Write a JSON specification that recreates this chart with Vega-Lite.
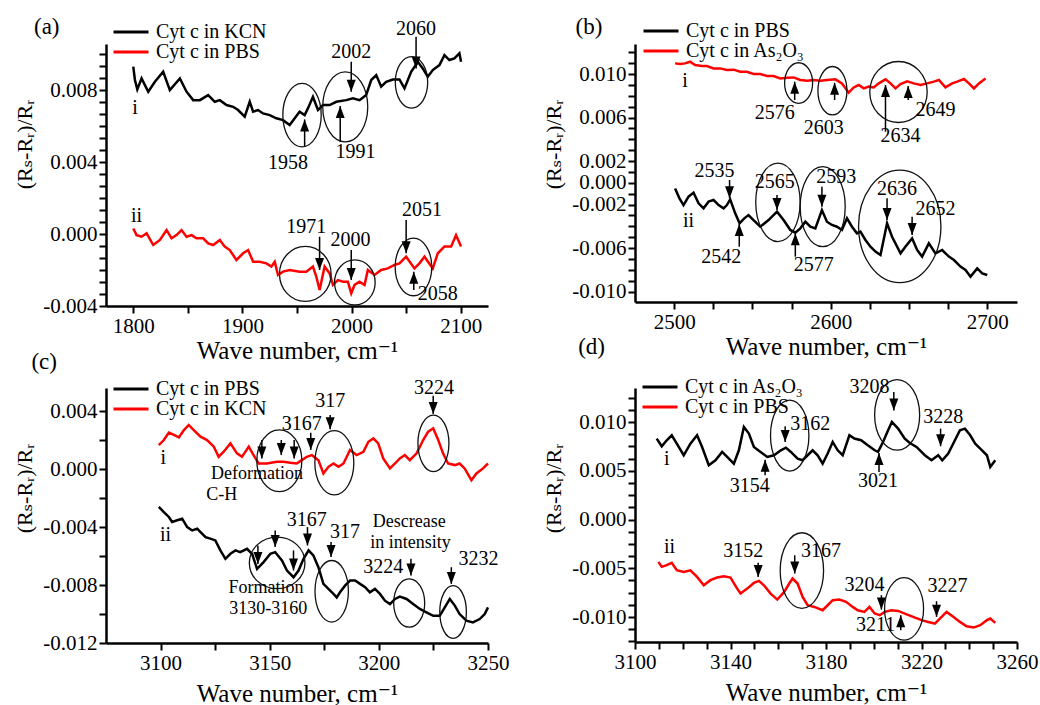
{
  "$schema": "https://vega.github.io/schema/vega-lite/v6.json",
  "background": "white",
  "padding": {"left": 13, "top": 15, "right": 5, "bottom": 5},
  "config": {
    "view": {"stroke": null},
    "font": "Liberation Serif, Tinos, Times New Roman, Times, DejaVu Serif, serif",
    "axis": {"domainColor": "#000", "domainWidth": 2.5, "tickColor": "#000", "tickWidth": 2, "tickSize": 7, "tickCount": 1000, "labelFont": "Liberation Serif, Tinos, Times New Roman, Times, DejaVu Serif, serif", "labelFontSize": 21, "labelColor": "#000", "titleFont": "Liberation Serif, Tinos, Times New Roman, Times, DejaVu Serif, serif", "titleFontWeight": "normal", "titleColor": "#000", "grid": false, "labelPadding": 2, "labelOverlap": false, "labelFlush": false},
    "axisY": {"titleFontSize": 22, "titleY": 100, "titlePadding": 6},
    "axisX": {"titleFontSize": 25},
    "legend": {"title": null, "symbolType": "stroke", "symbolSize": 1225, "symbolStrokeWidth": 3, "labelFont": "Liberation Serif, Tinos, Times New Roman, Times, DejaVu Serif, serif", "labelFontSize": 20, "labelColor": "#000", "labelOffset": 6, "clipHeight": 18, "rowPadding": 0, "padding": 0, "orient": "none"},
    "text": {"font": "Liberation Serif, Tinos, Times New Roman, Times, DejaVu Serif, serif", "fontSize": 20, "color": "#000"}
  },
  "datasets": {
    "aL": [
      {"x":1800,"y":0.0093,"s":"KCN"},{"x":1801.5,"y":0.00856,"s":"KCN"},{"x":1803.7,"y":0.00804,"s":"KCN"},{"x":1807.6,"y":0.00865,"s":"KCN"},{"x":1813.7,"y":0.00791,"s":"KCN"},{"x":1819.8,"y":0.00846,"s":"KCN"},{"x":1827.4,"y":0.00902,"s":"KCN"},{"x":1833.5,"y":0.008,"s":"KCN"},{"x":1842.7,"y":0.00865,"s":"KCN"},{"x":1848.8,"y":0.00791,"s":"KCN"},{"x":1854.9,"y":0.00744,"s":"KCN"},{"x":1861,"y":0.00744,"s":"KCN"},{"x":1868.6,"y":0.00772,"s":"KCN"},{"x":1874.7,"y":0.00735,"s":"KCN"},{"x":1879.3,"y":0.00744,"s":"KCN"},{"x":1885.4,"y":0.00717,"s":"KCN"},{"x":1891.5,"y":0.00707,"s":"KCN"},{"x":1896,"y":0.00689,"s":"KCN"},{"x":1902.1,"y":0.00652,"s":"KCN"},{"x":1906.7,"y":0.00735,"s":"KCN"},{"x":1909.8,"y":0.0068,"s":"KCN"},{"x":1914.3,"y":0.00689,"s":"KCN"},{"x":1918.9,"y":0.0067,"s":"KCN"},{"x":1925,"y":0.00661,"s":"KCN"},{"x":1931.1,"y":0.00643,"s":"KCN"},{"x":1937.2,"y":0.00633,"s":"KCN"},{"x":1943.3,"y":0.00606,"s":"KCN"},{"x":1947.9,"y":0.00643,"s":"KCN"},{"x":1952.4,"y":0.0068,"s":"KCN"},{"x":1957,"y":0.00661,"s":"KCN"},{"x":1960,"y":0.00698,"s":"KCN"},{"x":1964.6,"y":0.00763,"s":"KCN"},{"x":1969.2,"y":0.00689,"s":"KCN"},{"x":1973.8,"y":0.00717,"s":"KCN"},{"x":1979.9,"y":0.00717,"s":"KCN"},{"x":1986,"y":0.00735,"s":"KCN"},{"x":1995.1,"y":0.00744,"s":"KCN"},{"x":2001.2,"y":0.00754,"s":"KCN"},{"x":2007.3,"y":0.00744,"s":"KCN"},{"x":2013.4,"y":0.00772,"s":"KCN"},{"x":2018,"y":0.00856,"s":"KCN"},{"x":2022.6,"y":0.00883,"s":"KCN"},{"x":2027.1,"y":0.00819,"s":"KCN"},{"x":2031.7,"y":0.00846,"s":"KCN"},{"x":2037.8,"y":0.00859,"s":"KCN"},{"x":2043.9,"y":0.00859,"s":"KCN"},{"x":2048.5,"y":0.00809,"s":"KCN"},{"x":2054.6,"y":0.00902,"s":"KCN"},{"x":2060.7,"y":0.00957,"s":"KCN"},{"x":2065.2,"y":0.0092,"s":"KCN"},{"x":2069.8,"y":0.00874,"s":"KCN"},{"x":2074.4,"y":0.00911,"s":"KCN"},{"x":2080.5,"y":0.00939,"s":"KCN"},{"x":2085.1,"y":0.00994,"s":"KCN"},{"x":2089.6,"y":0.00967,"s":"KCN"},{"x":2094.2,"y":0.00976,"s":"KCN"},{"x":2098.8,"y":0.01004,"s":"KCN"},{"x":2100.3,"y":0.00957,"s":"KCN"},
      {"x":1800,"y":0.00031,"s":"PBS"},{"x":1803,"y":-0.00006,"s":"PBS"},{"x":1807.6,"y":-0.00015,"s":"PBS"},{"x":1812.2,"y":0.00004,"s":"PBS"},{"x":1818.3,"y":-0.00061,"s":"PBS"},{"x":1824.4,"y":-0.00033,"s":"PBS"},{"x":1830.5,"y":0.00022,"s":"PBS"},{"x":1835.1,"y":-0.00024,"s":"PBS"},{"x":1839.6,"y":-0.00006,"s":"PBS"},{"x":1844.2,"y":0.00022,"s":"PBS"},{"x":1848.8,"y":-0.00015,"s":"PBS"},{"x":1853.4,"y":-0.00006,"s":"PBS"},{"x":1857.9,"y":-0.00024,"s":"PBS"},{"x":1864,"y":-0.00024,"s":"PBS"},{"x":1868.6,"y":-0.00052,"s":"PBS"},{"x":1873.2,"y":-0.00061,"s":"PBS"},{"x":1879.3,"y":-0.00033,"s":"PBS"},{"x":1883.8,"y":-0.0007,"s":"PBS"},{"x":1888.4,"y":-0.00089,"s":"PBS"},{"x":1894.5,"y":-0.00144,"s":"PBS"},{"x":1900.6,"y":-0.00107,"s":"PBS"},{"x":1905.2,"y":-0.00089,"s":"PBS"},{"x":1909.8,"y":-0.00154,"s":"PBS"},{"x":1915.9,"y":-0.00154,"s":"PBS"},{"x":1922,"y":-0.00163,"s":"PBS"},{"x":1926.5,"y":-0.00181,"s":"PBS"},{"x":1929.6,"y":-0.00154,"s":"PBS"},{"x":1932.6,"y":-0.00228,"s":"PBS"},{"x":1937.2,"y":-0.00209,"s":"PBS"},{"x":1943.3,"y":-0.002,"s":"PBS"},{"x":1952.4,"y":-0.00209,"s":"PBS"},{"x":1958.5,"y":-0.00209,"s":"PBS"},{"x":1964.6,"y":-0.00181,"s":"PBS"},{"x":1967.7,"y":-0.00237,"s":"PBS"},{"x":1970.7,"y":-0.00311,"s":"PBS"},{"x":1975.3,"y":-0.00181,"s":"PBS"},{"x":1979.9,"y":-0.00219,"s":"PBS"},{"x":1982.9,"y":-0.00283,"s":"PBS"},{"x":1987.5,"y":-0.00256,"s":"PBS"},{"x":1992.1,"y":-0.00265,"s":"PBS"},{"x":1996.6,"y":-0.00265,"s":"PBS"},{"x":1999.7,"y":-0.0033,"s":"PBS"},{"x":2002.7,"y":-0.00283,"s":"PBS"},{"x":2007.3,"y":-0.00265,"s":"PBS"},{"x":2011.9,"y":-0.00283,"s":"PBS"},{"x":2014.9,"y":-0.002,"s":"PBS"},{"x":2021,"y":-0.00228,"s":"PBS"},{"x":2027.1,"y":-0.002,"s":"PBS"},{"x":2033.2,"y":-0.00191,"s":"PBS"},{"x":2039.3,"y":-0.00172,"s":"PBS"},{"x":2043.9,"y":-0.00163,"s":"PBS"},{"x":2050,"y":-0.00126,"s":"PBS"},{"x":2057.6,"y":-0.00191,"s":"PBS"},{"x":2062.2,"y":-0.00163,"s":"PBS"},{"x":2066.8,"y":-0.00126,"s":"PBS"},{"x":2074.4,"y":-0.00191,"s":"PBS"},{"x":2079,"y":-0.00107,"s":"PBS"},{"x":2085.1,"y":-0.0007,"s":"PBS"},{"x":2091.2,"y":-0.0007,"s":"PBS"},{"x":2095.7,"y":-0.00006,"s":"PBS"},{"x":2100.3,"y":-0.0007,"s":"PBS"}
    ],
    "aA": [
      {"x":1957,"y1":0.00485,"y2":0.00637,"dir":"up"},{"x":1989.6,"y1":0.00513,"y2":0.00711,"dir":"up"},{"x":1999.7,"y1":0.00957,"y2":0.00791,"dir":"down"},{"x":2059.1,"y1":0.01096,"y2":0.0092,"dir":"down"},{"x":1970.7,"y1":-0.00015,"y2":-0.002,"dir":"down"},{"x":1999.7,"y1":-0.00089,"y2":-0.00256,"dir":"down"},{"x":2050,"y1":0.00078,"y2":-0.00107,"dir":"down"},{"x":2057,"y1":-0.00311,"y2":-0.00209,"dir":"up"}
    ],
    "aE": [
      {"id":"e1","x":1954.6,"y":0.00661},{"id":"e2","x":1994.2,"y":0.00707},{"id":"e3","x":2054.9,"y":0.00843},{"id":"e4","x":1957.6,"y":-0.00222},{"id":"e5","x":2003,"y":-0.00269},{"id":"e6","x":2056.7,"y":-0.00183}
    ],
    "aT": [
      {"x":1941.8,"y":0.00393,"t":"1958"},{"x":2003.7,"y":0.00457,"t":"1991"},{"x":1999.7,"y":0.01013,"t":"2002"},{"x":2059.1,"y":0.01137,"t":"2060"},{"x":1958.5,"y":0.00041,"t":"1971"},{"x":1999,"y":-0.00033,"t":"2000"},{"x":2064.6,"y":0.00133,"t":"2051"},{"x":2079,"y":-0.00333,"t":"2058"},{"x":1801.5,"y":0.00698,"t":"i"},{"x":1803,"y":0.001,"t":"ii"}
    ],
    "bL": [
      {"x":2500.6,"y":0.01098,"s":"As₂O₃"},{"x":2503.8,"y":0.01092,"s":"As₂O₃"},{"x":2507,"y":0.01098,"s":"As₂O₃"},{"x":2510.2,"y":0.01113,"s":"As₂O₃"},{"x":2513.4,"y":0.01083,"s":"As₂O₃"},{"x":2517.7,"y":0.01074,"s":"As₂O₃"},{"x":2520.9,"y":0.01074,"s":"As₂O₃"},{"x":2525.2,"y":0.01052,"s":"As₂O₃"},{"x":2529.4,"y":0.01052,"s":"As₂O₃"},{"x":2533.7,"y":0.01037,"s":"As₂O₃"},{"x":2538,"y":0.0104,"s":"As₂O₃"},{"x":2542.2,"y":0.01021,"s":"As₂O₃"},{"x":2546.5,"y":0.01021,"s":"As₂O₃"},{"x":2550.7,"y":0.01,"s":"As₂O₃"},{"x":2555,"y":0.01,"s":"As₂O₃"},{"x":2559.3,"y":0.00982,"s":"As₂O₃"},{"x":2563.5,"y":0.00982,"s":"As₂O₃"},{"x":2567.8,"y":0.0096,"s":"As₂O₃"},{"x":2572.1,"y":0.00966,"s":"As₂O₃"},{"x":2576.3,"y":0.00969,"s":"As₂O₃"},{"x":2580.6,"y":0.00945,"s":"As₂O₃"},{"x":2584.9,"y":0.00939,"s":"As₂O₃"},{"x":2589.1,"y":0.00945,"s":"As₂O₃"},{"x":2593.4,"y":0.00939,"s":"As₂O₃"},{"x":2597.7,"y":0.00945,"s":"As₂O₃"},{"x":2603,"y":0.00951,"s":"As₂O₃"},{"x":2607.2,"y":0.00914,"s":"As₂O₃"},{"x":2611.5,"y":0.00829,"s":"As₂O₃"},{"x":2614.7,"y":0.00877,"s":"As₂O₃"},{"x":2617.9,"y":0.00899,"s":"As₂O₃"},{"x":2621.1,"y":0.00868,"s":"As₂O₃"},{"x":2624.3,"y":0.00884,"s":"As₂O₃"},{"x":2627.5,"y":0.00877,"s":"As₂O₃"},{"x":2630.7,"y":0.00914,"s":"As₂O₃"},{"x":2635,"y":0.00951,"s":"As₂O₃"},{"x":2638.2,"y":0.00914,"s":"As₂O₃"},{"x":2641.4,"y":0.00868,"s":"As₂O₃"},{"x":2644.6,"y":0.00908,"s":"As₂O₃"},{"x":2648.8,"y":0.00933,"s":"As₂O₃"},{"x":2653.1,"y":0.00914,"s":"As₂O₃"},{"x":2657.4,"y":0.00899,"s":"As₂O₃"},{"x":2661.6,"y":0.00914,"s":"As₂O₃"},{"x":2665.9,"y":0.0093,"s":"As₂O₃"},{"x":2669.1,"y":0.00945,"s":"As₂O₃"},{"x":2673.3,"y":0.00877,"s":"As₂O₃"},{"x":2677.6,"y":0.00914,"s":"As₂O₃"},{"x":2680.8,"y":0.0093,"s":"As₂O₃"},{"x":2685.1,"y":0.00954,"s":"As₂O₃"},{"x":2688.3,"y":0.00914,"s":"As₂O₃"},{"x":2691.5,"y":0.00868,"s":"As₂O₃"},{"x":2694.7,"y":0.00914,"s":"As₂O₃"},{"x":2698.9,"y":0.0096,"s":"As₂O₃"},
      {"x":2500.6,"y":-0.00051,"s":"PBS"},{"x":2503.4,"y":-0.00142,"s":"PBS"},{"x":2506,"y":-0.00204,"s":"PBS"},{"x":2509.2,"y":-0.00127,"s":"PBS"},{"x":2512.4,"y":-0.0009,"s":"PBS"},{"x":2515.6,"y":-0.00188,"s":"PBS"},{"x":2518.8,"y":-0.00234,"s":"PBS"},{"x":2522,"y":-0.00173,"s":"PBS"},{"x":2525.2,"y":-0.00158,"s":"PBS"},{"x":2528.4,"y":-0.00204,"s":"PBS"},{"x":2531.6,"y":-0.00234,"s":"PBS"},{"x":2533.7,"y":-0.00204,"s":"PBS"},{"x":2535.8,"y":-0.00152,"s":"PBS"},{"x":2539,"y":-0.0028,"s":"PBS"},{"x":2541.8,"y":-0.00372,"s":"PBS"},{"x":2544.8,"y":-0.00326,"s":"PBS"},{"x":2547.5,"y":-0.00296,"s":"PBS"},{"x":2550.7,"y":-0.00342,"s":"PBS"},{"x":2555,"y":-0.00403,"s":"PBS"},{"x":2560.3,"y":-0.00342,"s":"PBS"},{"x":2565.7,"y":-0.00265,"s":"PBS"},{"x":2569.9,"y":-0.00342,"s":"PBS"},{"x":2574.2,"y":-0.00433,"s":"PBS"},{"x":2577.4,"y":-0.00458,"s":"PBS"},{"x":2580.6,"y":-0.00418,"s":"PBS"},{"x":2583.8,"y":-0.00357,"s":"PBS"},{"x":2587,"y":-0.00403,"s":"PBS"},{"x":2590.2,"y":-0.00418,"s":"PBS"},{"x":2594.4,"y":-0.0025,"s":"PBS"},{"x":2597.6,"y":-0.00357,"s":"PBS"},{"x":2600.8,"y":-0.00387,"s":"PBS"},{"x":2604,"y":-0.00403,"s":"PBS"},{"x":2607.2,"y":-0.00433,"s":"PBS"},{"x":2610.4,"y":-0.00326,"s":"PBS"},{"x":2613.6,"y":-0.00403,"s":"PBS"},{"x":2616.8,"y":-0.00464,"s":"PBS"},{"x":2619,"y":-0.00449,"s":"PBS"},{"x":2622.2,"y":-0.00525,"s":"PBS"},{"x":2625.4,"y":-0.00587,"s":"PBS"},{"x":2628.6,"y":-0.00632,"s":"PBS"},{"x":2631.8,"y":-0.00663,"s":"PBS"},{"x":2636,"y":-0.00372,"s":"PBS"},{"x":2639.2,"y":-0.00495,"s":"PBS"},{"x":2644.6,"y":-0.00648,"s":"PBS"},{"x":2647.7,"y":-0.00587,"s":"PBS"},{"x":2652,"y":-0.0051,"s":"PBS"},{"x":2655.2,"y":-0.00617,"s":"PBS"},{"x":2658.4,"y":-0.00678,"s":"PBS"},{"x":2662.7,"y":-0.00556,"s":"PBS"},{"x":2666.9,"y":-0.00648,"s":"PBS"},{"x":2671.2,"y":-0.00617,"s":"PBS"},{"x":2675.5,"y":-0.00678,"s":"PBS"},{"x":2678.7,"y":-0.00709,"s":"PBS"},{"x":2682.9,"y":-0.0077,"s":"PBS"},{"x":2686.1,"y":-0.00801,"s":"PBS"},{"x":2689.3,"y":-0.00862,"s":"PBS"},{"x":2693.6,"y":-0.00786,"s":"PBS"},{"x":2696.8,"y":-0.00832,"s":"PBS"},{"x":2700,"y":-0.00847,"s":"PBS"}
    ],
    "bA": [
      {"x":2577,"y1":0.00761,"y2":0.0093,"dir":"up"},{"x":2602.5,"y1":0.00761,"y2":0.0092,"dir":"up"},{"x":2635,"y1":0.0047,"y2":0.00899,"dir":"up"},{"x":2649.5,"y1":0.00761,"y2":0.0089,"dir":"up"},{"x":2535.4,"y1":0.00026,"y2":-0.00142,"dir":"down"},{"x":2541.6,"y1":-0.00587,"y2":-0.00378,"dir":"up"},{"x":2565.7,"y1":-0.00112,"y2":-0.0025,"dir":"down"},{"x":2577.4,"y1":-0.00678,"y2":-0.00464,"dir":"up"},{"x":2594.4,"y1":-0.00035,"y2":-0.00219,"dir":"down"},{"x":2636,"y1":-0.00142,"y2":-0.00341,"dir":"down"},{"x":2652,"y1":-0.00311,"y2":-0.00479,"dir":"down"}
    ],
    "bE": [
      {"id":"e1","x":2579.5,"y":0.00917},{"id":"e2","x":2601.1,"y":0.00847},{"id":"e3","x":2643.3,"y":0.00835},{"id":"e4","x":2566.3,"y":-0.00179},{"id":"e5","x":2594.9,"y":-0.00219},{"id":"e6","x":2644.1,"y":-0.004}
    ],
    "bT": [
      {"x":2564.2,"y":0.00639,"t":"2576"},{"x":2595.5,"y":0.00507,"t":"2603"},{"x":2644.6,"y":0.0043,"t":"2634"},{"x":2666.9,"y":0.00669,"t":"2649"},{"x":2525.8,"y":0.00109,"t":"2535"},{"x":2530.1,"y":-0.00678,"t":"2542"},{"x":2564.2,"y":0.00011,"t":"2565"},{"x":2589.1,"y":-0.00755,"t":"2577"},{"x":2603.6,"y":0.00057,"t":"2593"},{"x":2642.4,"y":-0.0006,"t":"2636"},{"x":2666.9,"y":-0.00243,"t":"2652"},{"x":2507,"y":0.00936,"t":"i"},{"x":2509.2,"y":-0.00348,"t":"ii"}
    ],
    "cL": [
      {"x":3099.2,"y":0.00166,"s":"KCN"},{"x":3101.5,"y":0.00201,"s":"KCN"},{"x":3103.8,"y":0.00252,"s":"KCN"},{"x":3106.1,"y":0.00236,"s":"KCN"},{"x":3108.4,"y":0.00219,"s":"KCN"},{"x":3110.7,"y":0.0027,"s":"KCN"},{"x":3112.9,"y":0.00305,"s":"KCN"},{"x":3115.2,"y":0.0027,"s":"KCN"},{"x":3118.3,"y":0.00224,"s":"KCN"},{"x":3121.3,"y":0.00201,"s":"KCN"},{"x":3124.4,"y":0.00155,"s":"KCN"},{"x":3126.6,"y":0.00085,"s":"KCN"},{"x":3128.9,"y":0.0012,"s":"KCN"},{"x":3132,"y":0.00178,"s":"KCN"},{"x":3135,"y":0.00109,"s":"KCN"},{"x":3137.3,"y":0.00085,"s":"KCN"},{"x":3140.4,"y":0.00155,"s":"KCN"},{"x":3142.6,"y":0.00097,"s":"KCN"},{"x":3144.9,"y":0.00039,"s":"KCN"},{"x":3148.7,"y":0.00039,"s":"KCN"},{"x":3153.3,"y":0.00051,"s":"KCN"},{"x":3156.3,"y":0.00051,"s":"KCN"},{"x":3159.4,"y":0.00044,"s":"KCN"},{"x":3162.4,"y":0.00039,"s":"KCN"},{"x":3164.7,"y":0.00062,"s":"KCN"},{"x":3167,"y":0.00085,"s":"KCN"},{"x":3169.3,"y":0.00097,"s":"KCN"},{"x":3172.3,"y":0.00062,"s":"KCN"},{"x":3174.6,"y":-0.0003,"s":"KCN"},{"x":3176.9,"y":0.00016,"s":"KCN"},{"x":3179.2,"y":0.00039,"s":"KCN"},{"x":3181.5,"y":0.00016,"s":"KCN"},{"x":3183.8,"y":0.00039,"s":"KCN"},{"x":3186.8,"y":0.00132,"s":"KCN"},{"x":3189.8,"y":0.00097,"s":"KCN"},{"x":3192.9,"y":0.0012,"s":"KCN"},{"x":3195.2,"y":0.00189,"s":"KCN"},{"x":3197.5,"y":0.00212,"s":"KCN"},{"x":3199.7,"y":0.00178,"s":"KCN"},{"x":3202,"y":0.00074,"s":"KCN"},{"x":3205.1,"y":0.00005,"s":"KCN"},{"x":3207.4,"y":0.00039,"s":"KCN"},{"x":3209.6,"y":0.00074,"s":"KCN"},{"x":3211.9,"y":0.00097,"s":"KCN"},{"x":3214.2,"y":0.00062,"s":"KCN"},{"x":3217.3,"y":0.00109,"s":"KCN"},{"x":3220.3,"y":0.00201,"s":"KCN"},{"x":3222.6,"y":0.00259,"s":"KCN"},{"x":3224.9,"y":0.00282,"s":"KCN"},{"x":3227.2,"y":0.00201,"s":"KCN"},{"x":3229.4,"y":0.00109,"s":"KCN"},{"x":3231.7,"y":0.00039,"s":"KCN"},{"x":3234.8,"y":0.00028,"s":"KCN"},{"x":3237,"y":0.00039,"s":"KCN"},{"x":3239.3,"y":0.00005,"s":"KCN"},{"x":3242.4,"y":-0.00076,"s":"KCN"},{"x":3244.7,"y":-0.0003,"s":"KCN"},{"x":3247.7,"y":0.00005,"s":"KCN"},{"x":3250,"y":0.00039,"s":"KCN"},
      {"x":3099.2,"y":-0.00261,"s":"PBS"},{"x":3101.5,"y":-0.00296,"s":"PBS"},{"x":3103.8,"y":-0.0033,"s":"PBS"},{"x":3105.3,"y":-0.00365,"s":"PBS"},{"x":3107.6,"y":-0.00353,"s":"PBS"},{"x":3109.9,"y":-0.00342,"s":"PBS"},{"x":3112.2,"y":-0.004,"s":"PBS"},{"x":3114.5,"y":-0.00423,"s":"PBS"},{"x":3116.8,"y":-0.00411,"s":"PBS"},{"x":3118.3,"y":-0.00434,"s":"PBS"},{"x":3120.6,"y":-0.00469,"s":"PBS"},{"x":3122.8,"y":-0.0048,"s":"PBS"},{"x":3125.1,"y":-0.00492,"s":"PBS"},{"x":3127.4,"y":-0.00561,"s":"PBS"},{"x":3129.7,"y":-0.00619,"s":"PBS"},{"x":3132,"y":-0.00584,"s":"PBS"},{"x":3134.3,"y":-0.00561,"s":"PBS"},{"x":3136.5,"y":-0.00573,"s":"PBS"},{"x":3139.6,"y":-0.0055,"s":"PBS"},{"x":3141.9,"y":-0.00584,"s":"PBS"},{"x":3144.2,"y":-0.00688,"s":"PBS"},{"x":3147.2,"y":-0.00642,"s":"PBS"},{"x":3150.3,"y":-0.00584,"s":"PBS"},{"x":3152.5,"y":-0.00573,"s":"PBS"},{"x":3155.6,"y":-0.0063,"s":"PBS"},{"x":3157.9,"y":-0.007,"s":"PBS"},{"x":3160.9,"y":-0.00746,"s":"PBS"},{"x":3163.2,"y":-0.007,"s":"PBS"},{"x":3165.5,"y":-0.00619,"s":"PBS"},{"x":3167.8,"y":-0.00561,"s":"PBS"},{"x":3170,"y":-0.00596,"s":"PBS"},{"x":3172.3,"y":-0.00677,"s":"PBS"},{"x":3174.6,"y":-0.00792,"s":"PBS"},{"x":3176.9,"y":-0.00827,"s":"PBS"},{"x":3179.2,"y":-0.00861,"s":"PBS"},{"x":3180.7,"y":-0.00885,"s":"PBS"},{"x":3182.2,"y":-0.0085,"s":"PBS"},{"x":3184.5,"y":-0.00804,"s":"PBS"},{"x":3186.8,"y":-0.00769,"s":"PBS"},{"x":3189.1,"y":-0.00769,"s":"PBS"},{"x":3191.4,"y":-0.00792,"s":"PBS"},{"x":3193.7,"y":-0.00815,"s":"PBS"},{"x":3195.9,"y":-0.0085,"s":"PBS"},{"x":3198.2,"y":-0.00827,"s":"PBS"},{"x":3200.5,"y":-0.00861,"s":"PBS"},{"x":3202.8,"y":-0.00908,"s":"PBS"},{"x":3205.1,"y":-0.00931,"s":"PBS"},{"x":3207.4,"y":-0.00896,"s":"PBS"},{"x":3209.6,"y":-0.0088,"s":"PBS"},{"x":3212.7,"y":-0.00896,"s":"PBS"},{"x":3215.7,"y":-0.00931,"s":"PBS"},{"x":3218.8,"y":-0.00965,"s":"PBS"},{"x":3221.8,"y":-0.00988,"s":"PBS"},{"x":3224.9,"y":-0.01012,"s":"PBS"},{"x":3227.9,"y":-0.01012,"s":"PBS"},{"x":3230.2,"y":-0.00954,"s":"PBS"},{"x":3232.5,"y":-0.00896,"s":"PBS"},{"x":3234.8,"y":-0.00942,"s":"PBS"},{"x":3237,"y":-0.01,"s":"PBS"},{"x":3240.1,"y":-0.01046,"s":"PBS"},{"x":3243.1,"y":-0.01058,"s":"PBS"},{"x":3246.2,"y":-0.01035,"s":"PBS"},{"x":3248.5,"y":-0.01,"s":"PBS"},{"x":3250,"y":-0.00954,"s":"PBS"}
    ],
    "cA": [
      {"x":3146.4,"y1":0.00201,"y2":0.00074,"dir":"down"},{"x":3155.3,"y1":0.00201,"y2":0.00097,"dir":"down"},{"x":3161.2,"y1":0.00201,"y2":0.00074,"dir":"down"},{"x":3168.8,"y1":0.00252,"y2":0.00132,"dir":"down"},{"x":3177.7,"y1":0.00374,"y2":0.00275,"dir":"down"},{"x":3224.9,"y1":0.00506,"y2":0.00381,"dir":"down"},{"x":3144.6,"y1":-0.00527,"y2":-0.00654,"dir":"down"},{"x":3152.5,"y1":-0.00423,"y2":-0.00538,"dir":"down"},{"x":3160.9,"y1":-0.00561,"y2":-0.007,"dir":"down"},{"x":3167.3,"y1":-0.004,"y2":-0.00527,"dir":"down"},{"x":3178.1,"y1":-0.00503,"y2":-0.00607,"dir":"down"},{"x":3214.7,"y1":-0.00619,"y2":-0.00734,"dir":"down"},{"x":3233.2,"y1":-0.00677,"y2":-0.00792,"dir":"down"}
    ],
    "cE": [
      {"id":"e1","x":3154.4,"y":0.00058},{"id":"e2","x":3179.6,"y":0.00044},{"id":"e3","x":3225,"y":0.00178},{"id":"e4","x":3153.4,"y":-0.00647},{"id":"e5","x":3178.4,"y":-0.00843},{"id":"e6","x":3213.9,"y":-0.00924},{"id":"e7","x":3234,"y":-0.00986}
    ],
    "cT": [
      {"x":3164.7,"y":0.00312,"t":"3167"},{"x":3177.7,"y":0.00467,"t":"317"},{"x":3225.3,"y":0.00559,"t":"3224"},{"x":3101.2,"y":0.00074,"t":"i"},{"x":3167,"y":-0.00353,"t":"3167"},{"x":3184.5,"y":-0.00434,"t":"317"},{"x":3202,"y":-0.00677,"t":"3224"},{"x":3245.6,"y":-0.00619,"t":"3232"},{"x":3102.3,"y":-0.00457,"t":"ii"}
    ],
    "cN": [
      {"x":3144.2,"y":-0.00036,"t":"Deformation"},{"x":3128,"y":-0.00176,"t":"C-H"},{"x":3213.9,"y":-0.00364,"t":"Descrease"},{"x":3214.5,"y":-0.00511,"t":"in intensity"},{"x":3148.3,"y":-0.00822,"t":"Formation"},{"x":3149.3,"y":-0.00966,"t":"3130-3160"}
    ],
    "dL": [
      {"x":3109.1,"y":0.00831,"s":"As₂O₃"},{"x":3111.2,"y":0.00752,"s":"As₂O₃"},{"x":3113.3,"y":0.00814,"s":"As₂O₃"},{"x":3115.4,"y":0.00865,"s":"As₂O₃"},{"x":3117.5,"y":0.00779,"s":"As₂O₃"},{"x":3120.4,"y":0.0066,"s":"As₂O₃"},{"x":3123.2,"y":0.00779,"s":"As₂O₃"},{"x":3126,"y":0.00865,"s":"As₂O₃"},{"x":3128.1,"y":0.00745,"s":"As₂O₃"},{"x":3130.9,"y":0.00557,"s":"As₂O₃"},{"x":3133.7,"y":0.00609,"s":"As₂O₃"},{"x":3136.5,"y":0.00694,"s":"As₂O₃"},{"x":3138.6,"y":0.00643,"s":"As₂O₃"},{"x":3141.4,"y":0.00574,"s":"As₂O₃"},{"x":3143.5,"y":0.00711,"s":"As₂O₃"},{"x":3145.6,"y":0.0095,"s":"As₂O₃"},{"x":3147.7,"y":0.00882,"s":"As₂O₃"},{"x":3149.8,"y":0.00745,"s":"As₂O₃"},{"x":3152.6,"y":0.00694,"s":"As₂O₃"},{"x":3155.4,"y":0.00643,"s":"As₂O₃"},{"x":3158.2,"y":0.0066,"s":"As₂O₃"},{"x":3161.1,"y":0.00711,"s":"As₂O₃"},{"x":3163.2,"y":0.00738,"s":"As₂O₃"},{"x":3165.3,"y":0.00694,"s":"As₂O₃"},{"x":3168.1,"y":0.00626,"s":"As₂O₃"},{"x":3170.2,"y":0.00609,"s":"As₂O₃"},{"x":3172.3,"y":0.0066,"s":"As₂O₃"},{"x":3174.4,"y":0.00711,"s":"As₂O₃"},{"x":3176.5,"y":0.0066,"s":"As₂O₃"},{"x":3178.6,"y":0.00574,"s":"As₂O₃"},{"x":3180.7,"y":0.00677,"s":"As₂O₃"},{"x":3182.8,"y":0.00797,"s":"As₂O₃"},{"x":3184.9,"y":0.00711,"s":"As₂O₃"},{"x":3187,"y":0.0066,"s":"As₂O₃"},{"x":3189.8,"y":0.00865,"s":"As₂O₃"},{"x":3191.9,"y":0.00831,"s":"As₂O₃"},{"x":3194.7,"y":0.00814,"s":"As₂O₃"},{"x":3197.5,"y":0.00762,"s":"As₂O₃"},{"x":3200.4,"y":0.00711,"s":"As₂O₃"},{"x":3201.8,"y":0.00694,"s":"As₂O₃"},{"x":3203.9,"y":0.00797,"s":"As₂O₃"},{"x":3206,"y":0.00916,"s":"As₂O₃"},{"x":3207.6,"y":0.01002,"s":"As₂O₃"},{"x":3210.2,"y":0.00933,"s":"As₂O₃"},{"x":3213,"y":0.00831,"s":"As₂O₃"},{"x":3215.1,"y":0.00786,"s":"As₂O₃"},{"x":3217.9,"y":0.00745,"s":"As₂O₃"},{"x":3221.4,"y":0.0066,"s":"As₂O₃"},{"x":3224.2,"y":0.00609,"s":"As₂O₃"},{"x":3227,"y":0.0066,"s":"As₂O₃"},{"x":3228.7,"y":0.00609,"s":"As₂O₃"},{"x":3231.2,"y":0.00677,"s":"As₂O₃"},{"x":3234,"y":0.00814,"s":"As₂O₃"},{"x":3236.1,"y":0.00916,"s":"As₂O₃"},{"x":3238.2,"y":0.00933,"s":"As₂O₃"},{"x":3240.4,"y":0.00865,"s":"As₂O₃"},{"x":3242.5,"y":0.00779,"s":"As₂O₃"},{"x":3244.6,"y":0.00728,"s":"As₂O₃"},{"x":3247.4,"y":0.0066,"s":"As₂O₃"},{"x":3248.8,"y":0.0054,"s":"As₂O₃"},{"x":3250.9,"y":0.00609,"s":"As₂O₃"},
      {"x":3109.8,"y":-0.00434,"s":"PBS"},{"x":3111.2,"y":-0.00485,"s":"PBS"},{"x":3113.3,"y":-0.00468,"s":"PBS"},{"x":3115.4,"y":-0.00444,"s":"PBS"},{"x":3117.5,"y":-0.0052,"s":"PBS"},{"x":3120.4,"y":-0.00537,"s":"PBS"},{"x":3123.2,"y":-0.0052,"s":"PBS"},{"x":3126,"y":-0.00588,"s":"PBS"},{"x":3128.8,"y":-0.00674,"s":"PBS"},{"x":3131.6,"y":-0.00622,"s":"PBS"},{"x":3134.4,"y":-0.00595,"s":"PBS"},{"x":3137.2,"y":-0.00581,"s":"PBS"},{"x":3140,"y":-0.00595,"s":"PBS"},{"x":3142.8,"y":-0.00708,"s":"PBS"},{"x":3144.2,"y":-0.00759,"s":"PBS"},{"x":3147,"y":-0.00708,"s":"PBS"},{"x":3149.8,"y":-0.0065,"s":"PBS"},{"x":3151.9,"y":-0.00629,"s":"PBS"},{"x":3154,"y":-0.00674,"s":"PBS"},{"x":3156.8,"y":-0.00759,"s":"PBS"},{"x":3159.6,"y":-0.00821,"s":"PBS"},{"x":3162.5,"y":-0.00742,"s":"PBS"},{"x":3164.6,"y":-0.00656,"s":"PBS"},{"x":3166,"y":-0.00605,"s":"PBS"},{"x":3168.1,"y":-0.00656,"s":"PBS"},{"x":3170.2,"y":-0.00793,"s":"PBS"},{"x":3172.3,"y":-0.00879,"s":"PBS"},{"x":3175.1,"y":-0.00896,"s":"PBS"},{"x":3178.6,"y":-0.0093,"s":"PBS"},{"x":3180.7,"y":-0.00879,"s":"PBS"},{"x":3182.8,"y":-0.00827,"s":"PBS"},{"x":3185.6,"y":-0.00821,"s":"PBS"},{"x":3188.4,"y":-0.00844,"s":"PBS"},{"x":3191.2,"y":-0.00896,"s":"PBS"},{"x":3193.3,"y":-0.0093,"s":"PBS"},{"x":3196.1,"y":-0.00947,"s":"PBS"},{"x":3198.2,"y":-0.00896,"s":"PBS"},{"x":3200.4,"y":-0.00964,"s":"PBS"},{"x":3202.5,"y":-0.00981,"s":"PBS"},{"x":3204.6,"y":-0.00947,"s":"PBS"},{"x":3207.4,"y":-0.0093,"s":"PBS"},{"x":3210.2,"y":-0.00937,"s":"PBS"},{"x":3213,"y":-0.00964,"s":"PBS"},{"x":3216.5,"y":-0.00998,"s":"PBS"},{"x":3220,"y":-0.01032,"s":"PBS"},{"x":3222.8,"y":-0.0105,"s":"PBS"},{"x":3225.6,"y":-0.01067,"s":"PBS"},{"x":3227.7,"y":-0.01015,"s":"PBS"},{"x":3230.5,"y":-0.00947,"s":"PBS"},{"x":3233.3,"y":-0.00998,"s":"PBS"},{"x":3236.1,"y":-0.0105,"s":"PBS"},{"x":3238.9,"y":-0.01094,"s":"PBS"},{"x":3241.8,"y":-0.01108,"s":"PBS"},{"x":3244.6,"y":-0.01084,"s":"PBS"},{"x":3247.4,"y":-0.01032,"s":"PBS"},{"x":3248.8,"y":-0.01015,"s":"PBS"},{"x":3250.9,"y":-0.0106,"s":"PBS"}
    ],
    "dA": [
      {"x":3162.9,"y1":0.00957,"y2":0.00797,"dir":"down"},{"x":3154.5,"y1":0.00455,"y2":0.00615,"dir":"up"},{"x":3208.4,"y1":0.0131,"y2":0.0112,"dir":"down"},{"x":3202.2,"y1":0.00489,"y2":0.00684,"dir":"up"},{"x":3228,"y1":0.00933,"y2":0.00752,"dir":"down"},{"x":3151.6,"y1":-0.00444,"y2":-0.00588,"dir":"down"},{"x":3166.9,"y1":-0.00366,"y2":-0.00554,"dir":"down"},{"x":3203.2,"y1":-0.00776,"y2":-0.00923,"dir":"down"},{"x":3211.3,"y1":-0.01135,"y2":-0.00981,"dir":"up"},{"x":3226.3,"y1":-0.00838,"y2":-0.00998,"dir":"down"}
    ],
    "dE": [
      {"id":"e1","x":3164.8,"y":0.00862},{"id":"e2","x":3209.8,"y":0.01074},{"id":"e3","x":3169.9,"y":-0.00523},{"id":"e4","x":3212.7,"y":-0.00916}
    ],
    "dT": [
      {"x":3173.4,"y":0.00985,"t":"3162"},{"x":3148.1,"y":0.00342,"t":"3154"},{"x":3198.2,"y":0.0136,"t":"3208"},{"x":3201.8,"y":0.00397,"t":"3021"},{"x":3229.1,"y":0.01053,"t":"3228"},{"x":3145.3,"y":-0.00325,"t":"3152"},{"x":3177.9,"y":-0.00325,"t":"3167"},{"x":3196.1,"y":-0.00667,"t":"3204"},{"x":3200.8,"y":-0.01077,"t":"3211"},{"x":3230.9,"y":-0.00684,"t":"3227"},{"x":3113.3,"y":0.00626,"t":"i"},{"x":3114.5,"y":-0.0028,"t":"ii"}
    ]
  },
  "columns": 2,
  "spacing": {"row": 82, "column": 147},
  "bounds": "flush",
  "resolve": {"scale": {"color": "independent", "shape": "independent", "x": "independent", "y": "independent"}, "legend": {"color": "independent"}},
  "concat": [
    {
      "width": 382, "height": 262,
      "layer": [
        {"data": {"name": "aL"}, "mark": {"type": "line", "strokeWidth": 2.5},
         "encoding": {
           "x": {"field": "x", "type": "quantitative", "scale": {"domain": [1775, 2125], "nice": false, "zero": false},
                 "axis": {"labelOverlap": false, "tickCount": 1000, "values": [1800,1850,1900,1950,2000,2050,2100], "labelExpr": "datum.value % 100 === 0 ? format(datum.value, 'd') : ''", "title": "Wave number, cm⁻¹", "titlePadding": 2}},
           "y": {"field": "y", "type": "quantitative", "scale": {"domain": [-0.004, 0.01056], "nice": false, "zero": false},
                 "axis": {"labelOverlap": false, "tickCount": 1000, "values": [-0.004,-0.003333,-0.002667,-0.002,-0.001333,-0.000667,0,0.000667,0.001333,0.002,0.002667,0.003333,0.004,0.004667,0.005333,0.006,0.006667,0.007333,0.008,0.008667,0.009333,0.01],
                          "labelExpr": "abs(datum.value*250 - round(datum.value*250)) < 0.01 ? (datum.value < -0.0000001 ? '-' : '') + format(abs(datum.value), '.3f') : ''", "title": "(Rₛ-Rᵣ)/Rᵣ"}},
           "color": {"field": "s", "type": "nominal", "scale": {"domain": ["KCN", "PBS"], "range": ["#000000", "#ff0000"]},
                     "legend": {"orient": "none", "legendX": 6, "legendY": -21, "labelExpr": "'Cyt c in ' + datum.label"}}
         }},
        {"data": {"name": "aA"}, "mark": {"type": "rule", "strokeWidth": 1.5, "color": "#000"},
         "encoding": {"x": {"field": "x", "type": "quantitative"}, "y": {"field": "y1", "type": "quantitative"}, "y2": {"field": "y2"}}},
        {"data": {"name": "aA"}, "transform": [{"filter": "datum.dir === 'down'"}], "mark": {"type": "point", "shape": "M -4.5,-12 L 4.5,-12 L 0,0 Z", "size": 4, "filled": true, "color": "#000", "opacity": 1},
         "encoding": {"x": {"field": "x", "type": "quantitative"}, "y": {"field": "y2", "type": "quantitative"}}},
        {"data": {"name": "aA"}, "transform": [{"filter": "datum.dir === 'up'"}], "mark": {"type": "point", "shape": "M -4.5,12 L 4.5,12 L 0,0 Z", "size": 4, "filled": true, "color": "#000", "opacity": 1},
         "encoding": {"x": {"field": "x", "type": "quantitative"}, "y": {"field": "y2", "type": "quantitative"}}},
        {"data": {"name": "aE"}, "mark": {"type": "point", "size": 4, "filled": false, "color": "#111", "strokeWidth": 1.3, "opacity": 1},
         "encoding": {"x": {"field": "x", "type": "quantitative"}, "y": {"field": "y", "type": "quantitative"},
                      "shape": {"field": "id", "type": "nominal", "legend": null, "scale": {"domain": ["e1","e2","e3","e4","e5","e6"], "range": [
                        "M -19.2,0 A 19.2,31.7 0 1,0 19.2,0 A 19.2,31.7 0 1,0 -19.2,0 Z",
                        "M -22.5,0 A 22.5,35 0 1,0 22.5,0 A 22.5,35 0 1,0 -22.5,0 Z",
                        "M -16.2,0 A 16.2,25.8 0 1,0 16.2,0 A 16.2,25.8 0 1,0 -16.2,0 Z",
                        "M -25.8,0 A 25.8,27.5 0 1,0 25.8,0 A 25.8,27.5 0 1,0 -25.8,0 Z",
                        "M -20.3,0 A 20.3,22.5 0 1,0 20.3,0 A 20.3,22.5 0 1,0 -20.3,0 Z",
                        "M -18.3,0 A 18.3,28.8 0 1,0 18.3,0 A 18.3,28.8 0 1,0 -18.3,0 Z"]}}}},
        {"data": {"name": "aT"}, "mark": {"type": "text", "fontSize": 20, "baseline": "middle"},
         "encoding": {"x": {"field": "x", "type": "quantitative"}, "y": {"field": "y", "type": "quantitative"}, "text": {"field": "t"}}},
        {"data": {"values": [{"x": 1720.7, "y": 0.0115, "t": "(a)"}]}, "mark": {"type": "text", "fontSize": 23, "baseline": "middle"},
         "encoding": {"x": {"field": "x", "type": "quantitative"}, "y": {"field": "y", "type": "quantitative"}, "text": {"field": "t"}}}
      ]
    },
    {
      "width": 382, "height": 258,
      "layer": [
        {"data": {"name": "bL"}, "mark": {"type": "line", "strokeWidth": 2.5},
         "encoding": {
           "x": {"field": "x", "type": "quantitative", "scale": {"domain": [2475, 2719], "nice": false, "zero": false},
                 "axis": {"labelOverlap": false, "tickCount": 1000, "values": [2500,2525,2550,2575,2600,2625,2650,2675,2700], "labelExpr": "datum.value % 100 === 0 ? format(datum.value, 'd') : ''", "title": "Wave number, cm⁻¹", "titlePadding": 2}},
           "y": {"field": "y", "type": "quantitative", "scale": {"domain": [-0.01095, 0.01276], "nice": false, "zero": false},
                 "axis": {"labelOverlap": false, "tickCount": 1000, "values": [-0.01,-0.009,-0.008,-0.007,-0.006,-0.005,-0.004,-0.003,-0.002,-0.001,0,0.001,0.002,0.003,0.004,0.005,0.006,0.007,0.008,0.009,0.01,0.011,0.012],
                          "labelExpr": "indexof([10,6,2,0,-2,-6,-10], round(datum.value*1000)) >= 0 ? (datum.value < -0.0000001 ? '-' : '') + format(abs(datum.value), '.3f') : ''", "title": "(Rₛ-Rᵣ)/Rᵣ"}},
           "color": {"field": "s", "type": "nominal", "scale": {"domain": ["PBS", "As₂O₃"], "range": ["#000000", "#ff0000"]},
                     "legend": {"orient": "none", "legendX": 7, "legendY": -22, "labelExpr": "'Cyt c in ' + datum.label"}}
         }},
        {"data": {"name": "bA"}, "mark": {"type": "rule", "strokeWidth": 1.5, "color": "#000"},
         "encoding": {"x": {"field": "x", "type": "quantitative"}, "y": {"field": "y1", "type": "quantitative"}, "y2": {"field": "y2"}}},
        {"data": {"name": "bA"}, "transform": [{"filter": "datum.dir === 'down'"}], "mark": {"type": "point", "shape": "M -4.5,-12 L 4.5,-12 L 0,0 Z", "size": 4, "filled": true, "color": "#000", "opacity": 1},
         "encoding": {"x": {"field": "x", "type": "quantitative"}, "y": {"field": "y2", "type": "quantitative"}}},
        {"data": {"name": "bA"}, "transform": [{"filter": "datum.dir === 'up'"}], "mark": {"type": "point", "shape": "M -4.5,12 L 4.5,12 L 0,0 Z", "size": 4, "filled": true, "color": "#000", "opacity": 1},
         "encoding": {"x": {"field": "x", "type": "quantitative"}, "y": {"field": "y2", "type": "quantitative"}}},
        {"data": {"name": "bE"}, "mark": {"type": "point", "size": 4, "filled": false, "color": "#111", "strokeWidth": 1.3, "opacity": 1},
         "encoding": {"x": {"field": "x", "type": "quantitative"}, "y": {"field": "y", "type": "quantitative"},
                      "shape": {"field": "id", "type": "nominal", "legend": null, "scale": {"domain": ["e1","e2","e3","e4","e5","e6"], "range": [
                        "M -14,0 A 14,20.3 0 1,0 14,0 A 14,20.3 0 1,0 -14,0 Z",
                        "M -14.5,0 A 14.5,24.2 0 1,0 14.5,0 A 14.5,24.2 0 1,0 -14.5,0 Z",
                        "M -28.7,0 A 28.7,30.5 0 1,0 28.7,0 A 28.7,30.5 0 1,0 -28.7,0 Z",
                        "M -22.2,0 A 22.2,39.2 0 1,0 22.2,0 A 22.2,39.2 0 1,0 -22.2,0 Z",
                        "M -22.5,0 A 22.5,40 0 1,0 22.5,0 A 22.5,40 0 1,0 -22.5,0 Z",
                        "M -41.2,0 A 41.2,56.3 0 1,0 41.2,0 A 41.2,56.3 0 1,0 -41.2,0 Z"]}}}},
        {"data": {"name": "bT"}, "mark": {"type": "text", "fontSize": 20, "baseline": "middle"},
         "encoding": {"x": {"field": "x", "type": "quantitative"}, "y": {"field": "y", "type": "quantitative"}, "text": {"field": "t"}}},
        {"data": {"values": [{"x": 2445.6, "y": 0.01435, "t": "(b)"}]}, "mark": {"type": "text", "fontSize": 23, "baseline": "middle"},
         "encoding": {"x": {"field": "x", "type": "quantitative"}, "y": {"field": "y", "type": "quantitative"}, "text": {"field": "t"}}}
      ]
    },
    {
      "width": 382, "height": 255,
      "layer": [
        {"data": {"name": "cL"}, "mark": {"type": "line", "strokeWidth": 2.5},
         "encoding": {
           "x": {"field": "x", "type": "quantitative", "scale": {"domain": [3075, 3250], "nice": false, "zero": false},
                 "axis": {"labelOverlap": false, "tickCount": 1000, "values": [3100,3125,3150,3175,3200,3225,3250], "labelExpr": "datum.value % 50 === 0 ? format(datum.value, 'd') : ''", "title": "Wave number, cm⁻¹", "titlePadding": 8}},
           "y": {"field": "y", "type": "quantitative", "scale": {"domain": [-0.012, 0.0056], "nice": false, "zero": false},
                 "axis": {"labelOverlap": false, "tickCount": 1000, "values": [-0.012,-0.01,-0.008,-0.006,-0.004,-0.002,0,0.002,0.004],
                          "labelExpr": "abs(datum.value*250 - round(datum.value*250)) < 0.01 ? (datum.value < -0.0000001 ? '-' : '') + format(abs(datum.value), '.3f') : ''", "title": "(Rₛ-Rᵣ)/Rᵣ"}},
           "color": {"field": "s", "type": "nominal", "scale": {"domain": ["PBS", "KCN"], "range": ["#000000", "#ff0000"]},
                     "legend": {"orient": "none", "legendX": 6, "legendY": -8, "labelExpr": "'Cyt c in ' + datum.label"}}
         }},
        {"data": {"name": "cA"}, "mark": {"type": "rule", "strokeWidth": 1.5, "color": "#000"},
         "encoding": {"x": {"field": "x", "type": "quantitative"}, "y": {"field": "y1", "type": "quantitative"}, "y2": {"field": "y2"}}},
        {"data": {"name": "cA"}, "transform": [{"filter": "datum.dir === 'down'"}], "mark": {"type": "point", "shape": "M -4.5,-12 L 4.5,-12 L 0,0 Z", "size": 4, "filled": true, "color": "#000", "opacity": 1},
         "encoding": {"x": {"field": "x", "type": "quantitative"}, "y": {"field": "y2", "type": "quantitative"}}},
        {"data": {"name": "cE"}, "mark": {"type": "point", "size": 4, "filled": false, "color": "#111", "strokeWidth": 1.3, "opacity": 1},
         "encoding": {"x": {"field": "x", "type": "quantitative"}, "y": {"field": "y", "type": "quantitative"},
                      "shape": {"field": "id", "type": "nominal", "legend": null, "scale": {"domain": ["e1","e2","e3","e4","e5","e6","e7"], "range": [
                        "M -22.5,0 A 22.5,30.8 0 1,0 22.5,0 A 22.5,30.8 0 1,0 -22.5,0 Z",
                        "M -19.5,0 A 19.5,32.2 0 1,0 19.5,0 A 19.5,32.2 0 1,0 -19.5,0 Z",
                        "M -15.5,0 A 15.5,28.3 0 1,0 15.5,0 A 15.5,28.3 0 1,0 -15.5,0 Z",
                        "M -27.8,0 A 27.8,25.8 0 1,0 27.8,0 A 27.8,25.8 0 1,0 -27.8,0 Z",
                        "M -16.7,0 A 16.7,30.8 0 1,0 16.7,0 A 16.7,30.8 0 1,0 -16.7,0 Z",
                        "M -15.5,0 A 15.5,24.2 0 1,0 15.5,0 A 15.5,24.2 0 1,0 -15.5,0 Z",
                        "M -13.3,0 A 13.3,26.3 0 1,0 13.3,0 A 13.3,26.3 0 1,0 -13.3,0 Z"]}}}},
        {"data": {"name": "cT"}, "mark": {"type": "text", "fontSize": 20, "baseline": "middle"},
         "encoding": {"x": {"field": "x", "type": "quantitative"}, "y": {"field": "y", "type": "quantitative"}, "text": {"field": "t"}}},
        {"data": {"name": "cN"}, "mark": {"type": "text", "fontSize": 18, "baseline": "middle"},
         "encoding": {"x": {"field": "x", "type": "quantitative"}, "y": {"field": "y", "type": "quantitative"}, "text": {"field": "t"}}},
        {"data": {"values": [{"x": 3046.7, "y": 0.00737, "t": "(c)"}]}, "mark": {"type": "text", "fontSize": 23, "baseline": "middle"},
         "encoding": {"x": {"field": "x", "type": "quantitative"}, "y": {"field": "y", "type": "quantitative"}, "text": {"field": "t"}}}
      ]
    },
    {
      "width": 382, "height": 254,
      "layer": [
        {"data": {"name": "dL"}, "mark": {"type": "line", "strokeWidth": 2.5},
         "encoding": {
           "x": {"field": "x", "type": "quantitative", "scale": {"domain": [3100, 3260], "nice": false, "zero": false},
                 "axis": {"labelOverlap": false, "tickCount": 1000, "values": [3100,3110,3120,3130,3140,3150,3160,3170,3180,3190,3200,3210,3220,3230,3240,3250,3260], "labelExpr": "(datum.value - 3100) % 40 === 0 ? format(datum.value, 'd') : ''", "title": "Wave number, cm⁻¹", "titlePadding": 8}},
           "y": {"field": "y", "type": "quantitative", "scale": {"domain": [-0.01256, 0.0135], "nice": false, "zero": false},
                 "axis": {"labelOverlap": false, "tickCount": 1000, "values": [-0.0125,-0.01125,-0.01,-0.00875,-0.0075,-0.00625,-0.005,-0.00375,-0.0025,-0.00125,0,0.00125,0.0025,0.00375,0.005,0.00625,0.0075,0.00875,0.01,0.01125,0.0125],
                          "labelExpr": "abs(datum.value*200 - round(datum.value*200)) < 0.01 ? (datum.value < -0.0000001 ? '-' : '') + format(abs(datum.value), '.3f') : ''", "title": "(Rₛ-Rᵣ)/Rᵣ"}},
           "color": {"field": "s", "type": "nominal", "scale": {"domain": ["As₂O₃", "PBS"], "range": ["#000000", "#ff0000"]},
                     "legend": {"orient": "none", "legendX": 6, "legendY": -10, "labelExpr": "'Cyt c in ' + datum.label"}}
         }},
        {"data": {"name": "dA"}, "mark": {"type": "rule", "strokeWidth": 1.5, "color": "#000"},
         "encoding": {"x": {"field": "x", "type": "quantitative"}, "y": {"field": "y1", "type": "quantitative"}, "y2": {"field": "y2"}}},
        {"data": {"name": "dA"}, "transform": [{"filter": "datum.dir === 'down'"}], "mark": {"type": "point", "shape": "M -4.5,-12 L 4.5,-12 L 0,0 Z", "size": 4, "filled": true, "color": "#000", "opacity": 1},
         "encoding": {"x": {"field": "x", "type": "quantitative"}, "y": {"field": "y2", "type": "quantitative"}}},
        {"data": {"name": "dA"}, "transform": [{"filter": "datum.dir === 'up'"}], "mark": {"type": "point", "shape": "M -4.5,12 L 4.5,12 L 0,0 Z", "size": 4, "filled": true, "color": "#000", "opacity": 1},
         "encoding": {"x": {"field": "x", "type": "quantitative"}, "y": {"field": "y2", "type": "quantitative"}}},
        {"data": {"name": "dE"}, "mark": {"type": "point", "size": 4, "filled": false, "color": "#111", "strokeWidth": 1.3, "opacity": 1},
         "encoding": {"x": {"field": "x", "type": "quantitative"}, "y": {"field": "y", "type": "quantitative"},
                      "shape": {"field": "id", "type": "nominal", "legend": null, "scale": {"domain": ["e1","e2","e3","e4"], "range": [
                        "M -19.2,0 A 19.2,35.5 0 1,0 19.2,0 A 19.2,35.5 0 1,0 -19.2,0 Z",
                        "M -22.5,0 A 22.5,35.3 0 1,0 22.5,0 A 22.5,35.3 0 1,0 -22.5,0 Z",
                        "M -21.7,0 A 21.7,37.8 0 1,0 21.7,0 A 21.7,37.8 0 1,0 -21.7,0 Z",
                        "M -19.5,0 A 19.5,31.3 0 1,0 19.5,0 A 19.5,31.3 0 1,0 -19.5,0 Z"]}}}},
        {"data": {"name": "dT"}, "mark": {"type": "text", "fontSize": 20, "baseline": "middle"},
         "encoding": {"x": {"field": "x", "type": "quantitative"}, "y": {"field": "y", "type": "quantitative"}, "text": {"field": "t"}}},
        {"data": {"values": [{"x": 3081.8, "y": 0.0177, "t": "(d)"}]}, "mark": {"type": "text", "fontSize": 23, "baseline": "middle"},
         "encoding": {"x": {"field": "x", "type": "quantitative"}, "y": {"field": "y", "type": "quantitative"}, "text": {"field": "t"}}}
      ]
    }
  ]
}
